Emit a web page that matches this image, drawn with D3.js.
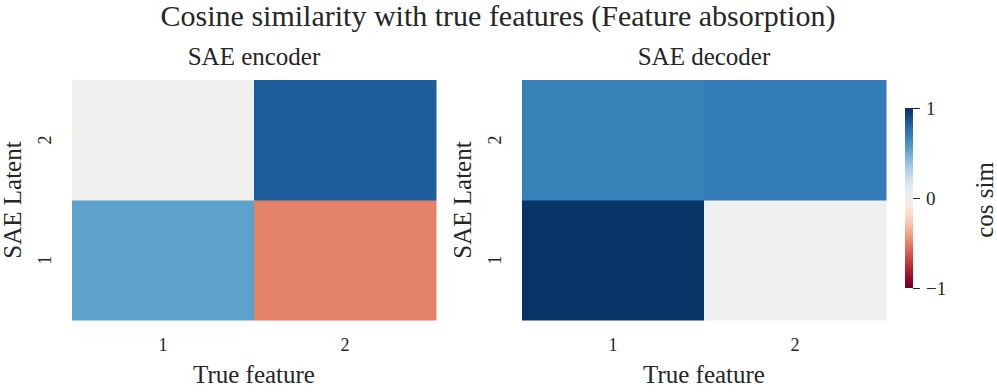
<!DOCTYPE html>
<html>
<head>
<meta charset="utf-8">
<script src="https://cdn.jsdelivr.net/npm/d3@7"></script>
<style>
body { margin: 0; background: white; }
text { font-family: "Liberation Serif", "DejaVu Serif", serif; fill: #262626; }
</style>
</head>
<body>
<svg id="chart"></svg>
<script>
var screen = {width: 997, height: 392}

var features = ["1", "2"]
var latents = ["1", "2"]

// rows are latents, columns are true features
var encoderValues = [
    [0.54, -0.50],   // latent 1
    [0.01, 0.83]     // latent 2
]
var decoderValues = [
    [0.98, 0.025],
    [0.68, 0.70]
]

var colorTicks = [1, 0, -1]
var colorTickLabels = ["1", "0", "\u22121"]

var svg = d3.select("#chart")
    .attr("width", screen.width)
    .attr("height", screen.height)

var color = function(v)
{
    return d3.interpolateRdBu((v + 1) / 2)
}

svg.append("text")
    .attr("x", 498)
    .attr("y", 26)
    .attr("text-anchor", "middle")
    .style("font-size", "30px")
    .text("Cosine similarity with true features (Feature absorption)")

var drawHeatmap = function(values, left, title)
{
    var width = 364, top = 80, height = 240

    var xscale = d3.scaleBand().domain(features).range([left, left + width])
    var yscale = d3.scaleBand().domain(latents.slice().reverse()).range([top, top + height])

    var cells = []
    values.forEach(function(row, i)
    {
        row.forEach(function(v, j)
        {
            cells.push({latent: latents[i], feature: features[j], value: v})
        })
    })

    var g = svg.append("g")

    g.selectAll("rect")
        .data(cells)
        .enter()
        .append("rect")
        .attr("x", function(c) {return xscale(c.feature)})
        .attr("y", function(c) {return yscale(c.latent)})
        .attr("width", xscale.bandwidth() + 0.5)
        .attr("height", yscale.bandwidth() + 0.5)
        .attr("fill", function(c) {return color(c.value)})

    var xaxis = g.append("g")
        .attr("transform", "translate(0," + (top + height) + ")")
        .call(d3.axisBottom(xscale).tickSize(0).tickPadding(18))
    xaxis.select(".domain").remove()
    xaxis.selectAll("text").style("font-size", "18px").attr("fill", "#262626")

    var yaxis = g.append("g")
        .attr("transform", "translate(" + left + ",0)")
        .call(d3.axisLeft(yscale).tickSize(0).tickPadding(0))
    yaxis.select(".domain").remove()
    yaxis.selectAll("text")
        .style("font-size", "18px")
        .attr("fill", "#262626")
        .attr("text-anchor", "middle")
        .attr("dy", "0")
        .attr("transform", "translate(-21,0) rotate(-90)")

    g.append("text")
        .attr("x", left + width / 2)
        .attr("y", 65)
        .attr("text-anchor", "middle")
        .style("font-size", "25px")
        .text(title)

    g.append("text")
        .attr("x", left + width / 2)
        .attr("y", 383)
        .attr("text-anchor", "middle")
        .style("font-size", "25px")
        .text("True feature")

    g.append("text")
        .attr("transform", "translate(" + (left - 51) + "," + (top + height / 2) + ") rotate(-90)")
        .attr("text-anchor", "middle")
        .style("font-size", "25px")
        .text("SAE Latent")
}

drawHeatmap(encoderValues, 72, "SAE encoder")
drawHeatmap(decoderValues, 522, "SAE decoder")

// colorbar
var cbar = {x: 905, y: 108, width: 8, height: 180}
var cscale = d3.scaleLinear().domain([-1, 1]).range([cbar.y + cbar.height, cbar.y])

var defs = svg.append("defs")
var grad = defs.append("linearGradient")
    .attr("id", "cbgrad")
    .attr("x1", "0").attr("y1", "1").attr("x2", "0").attr("y2", "0")
grad.selectAll("stop")
    .data(d3.range(0, 1.0001, 0.05))
    .enter()
    .append("stop")
    .attr("offset", function(t) {return t})
    .attr("stop-color", function(t) {return d3.interpolateRdBu(t)})

svg.append("rect")
    .attr("x", cbar.x)
    .attr("y", cbar.y)
    .attr("width", cbar.width)
    .attr("height", cbar.height)
    .attr("fill", "url(#cbgrad)")

var caxis = svg.append("g")
    .attr("transform", "translate(" + (cbar.x + cbar.width) + ",0)")
    .call(d3.axisRight(cscale).tickValues(colorTicks)
        .tickFormat(function(d, i) {return colorTickLabels[i]})
        .tickSize(7).tickPadding(6))
caxis.select(".domain").remove()
caxis.selectAll("line").attr("stroke", "#262626")
caxis.selectAll("text").style("font-size", "19px").attr("fill", "#262626")

svg.append("text")
    .attr("transform", "translate(984,200) rotate(-90)")
    .attr("text-anchor", "middle")
    .attr("dy", "0.35em")
    .style("font-size", "25px")
    .text("cos sim")
</script>
</body>
</html>
